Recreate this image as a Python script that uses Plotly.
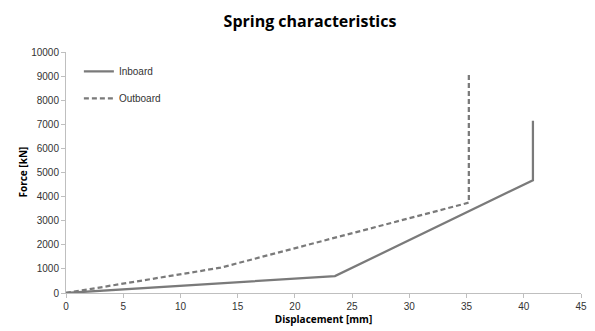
import plotly.graph_objects as go

inboard_x = [0, 23.5, 40.8, 40.8]
inboard_y = [0, 700, 4680, 7150]
outboard_x = [0, 13.5, 35.2, 35.2]
outboard_y = [0, 1050, 3750, 9050]

x_ticks = [0, 5, 10, 15, 20, 25, 30, 35, 40, 45]
y_ticks = [0, 1000, 2000, 3000, 4000, 5000, 6000, 7000, 8000, 9000, 10000]
y_labels = [str(v) for v in y_ticks]

line_col = "#7a7a7a"
axis_col = "#bfbfbf"

fig = go.Figure()
fig.add_trace(go.Scatter(x=inboard_x, y=inboard_y, mode="lines", name="Inboard",
                         legendgroup="a",
                         line=dict(color=line_col, width=2.25)))
fig.add_trace(go.Scatter(x=outboard_x, y=outboard_y, mode="lines", name="Outboard",
                         legendgroup="b",
                         line=dict(color=line_col, width=2.25, dash="5px,3px")))

# page body adds an 8px offset; figure sized to fit the 595x331 window
fig.update_layout(
    width=587, height=323,
    margin=dict(l=58, r=14, t=44, b=38, autoexpand=False),
    paper_bgcolor="white", plot_bgcolor="white",
    title=dict(text="<b>Spring characteristics</b>", x=(302 - 58) / 515, xanchor="center",
               xref="paper",
               y=1 - 13 / 323, yanchor="middle", automargin=False,
               font=dict(family="Open Sans", size=16, color="#000000")),
    legend=dict(x=0.025, y=0.98, xanchor="left", yanchor="top",
                bgcolor="rgba(0,0,0,0)", tracegroupgap=8,
                font=dict(family="Liberation Sans", size=10, color="#333333")),
    font=dict(family="Liberation Sans", size=10, color="#333333"),
    annotations=[dict(text="<b>Force [kN]</b>", textangle=-90, xref="paper", yref="paper",
                      x=(14 - 58) / 515, y=0.5, xanchor="center", yanchor="middle",
                      showarrow=False,
                      font=dict(family="Open Sans", size=10, color="#000000"))],
)
fig.update_xaxes(range=[0, 45], tickvals=x_ticks, showgrid=False, zeroline=False,
                 showline=True, linecolor=axis_col, linewidth=1, automargin=False,
                 ticks="outside", ticklen=4, tickcolor=axis_col,
                 title=dict(text="<b>Displacement [mm]</b>", standoff=1,
                            font=dict(family="Open Sans", size=10, color="#000000")),
                 tickfont=dict(size=10, color="#333333"))
fig.update_yaxes(range=[0, 10000], tickvals=y_ticks, ticktext=y_labels,
                 showgrid=False, zeroline=False,
                 showline=True, linecolor=axis_col, linewidth=1, automargin=False,
                 ticks="outside", ticklen=4, tickcolor=axis_col,
                 tickfont=dict(size=10, color="#333333"))

fig.write_html("out.html")
